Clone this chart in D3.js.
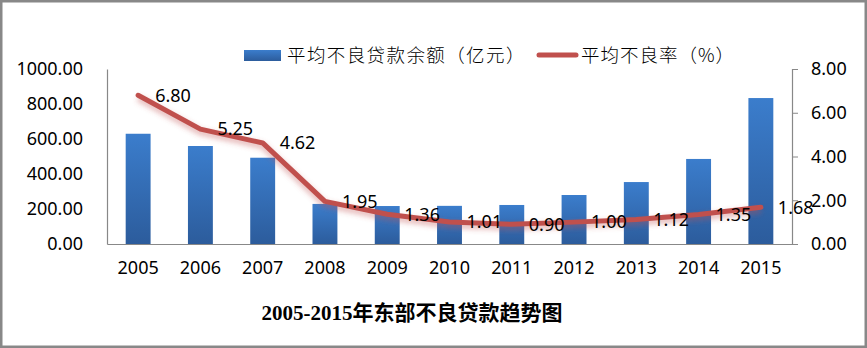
<!DOCTYPE html>
<html><head><meta charset="utf-8">
<script src="https://cdn.jsdelivr.net/npm/d3@7/dist/d3.min.js"></script>
<style>
html,body{margin:0;padding:0;background:#fff;}
svg{display:block;}
</style></head>
<body><svg id="c" width="867" height="348"></svg>
<script>
const years = ["2005","2006","2007","2008","2009","2010","2011","2012","2013","2014","2015"];
const balance = [630, 560, 493, 229, 217, 218, 223, 280, 354, 486, 834];
const rate = [6.80, 5.25, 4.62, 1.95, 1.36, 1.01, 0.90, 1.00, 1.12, 1.35, 1.68];
const leftTicks = [0, 200, 400, 600, 800, 1000];
const rightTicks = [0, 2, 4, 6, 8];
const seriesNames = ["平均不良贷款余额（亿元）", "平均不良率（%）"];
const title = "2005-2015年东部不良贷款趋势图";

const svg = d3.select("#c");
const font = "'Noto Sans', 'Noto Sans CJK SC', sans-serif";
const W = 867, H = 348;
const m = {left:107, right:792, top:69, bottom:244};

// frame
svg.append("rect").attr("x",1.25).attr("y",1.25).attr("width",W-2.5).attr("height",H-2.5)
  .attr("fill","#fff").attr("stroke","#888").attr("stroke-width",2.5);

const defs = svg.append("defs");
const g = defs.append("linearGradient").attr("id","barGrad").attr("x1",0).attr("y1",0).attr("x2",0).attr("y2",1);
g.append("stop").attr("offset","0%").attr("stop-color","#3B7DCC");
g.append("stop").attr("offset","100%").attr("stop-color","#2C5C9C");
const lg = defs.append("linearGradient").attr("id","legGrad").attr("x1",0).attr("y1",0).attr("x2",0).attr("y2",1);
lg.append("stop").attr("offset","0%").attr("stop-color","#3B7DCC");
lg.append("stop").attr("offset","100%").attr("stop-color","#2C5C9C");
const blur = defs.append("filter").attr("id","shadow").attr("x","-10%").attr("y","-50%").attr("width","120%").attr("height","200%");
blur.append("feGaussianBlur").attr("stdDeviation",2.5);

const x = d3.scaleBand().domain(years).range([m.left, m.right]).paddingInner(0.6).paddingOuter(0.3);
const xc = d => x(d) + x.bandwidth()/2;
const yL = d3.scaleLinear().domain([0,1000]).range([m.bottom, m.top]);
const yR = d3.scaleLinear().domain([0,8]).range([m.bottom, m.top]);

// bars
svg.append("g").selectAll("rect").data(years).join("rect")
  .attr("x", d => x(d)).attr("width", x.bandwidth())
  .attr("y", (d,i) => yL(balance[i])).attr("height", (d,i) => yL(0) - yL(balance[i]))
  .attr("fill","url(#barGrad)");

// left axis
const axL = svg.append("g").attr("transform",`translate(${m.left},0)`)
  .call(d3.axisLeft(yL).tickValues(leftTicks).tickSize(0).tickPadding(24).tickFormat(d3.format(".2f")));
axL.select(".domain").attr("stroke","#888").attr("stroke-width",1.2);
axL.selectAll("text").attr("font-family",font).attr("font-size",18).attr("fill","#000");

// right axis
const axR = svg.append("g").attr("transform",`translate(${m.right},0)`)
  .call(d3.axisRight(yR).tickValues(rightTicks).tickSize(6).tickSizeOuter(6).tickPadding(13).tickFormat(d3.format(".2f")));
axR.select(".domain").attr("stroke","#888").attr("stroke-width",1.2);
axR.selectAll(".tick line").attr("stroke","#888");
axR.selectAll("text").attr("font-family",font).attr("font-size",18).attr("fill","#000");

// x axis
const axX = svg.append("g").attr("transform",`translate(0,${m.bottom})`)
  .call(d3.axisBottom(x).tickSize(0).tickPadding(17).tickSizeOuter(0));
axX.select(".domain").attr("stroke","#888").attr("stroke-width",1.2);
axX.selectAll("text").attr("font-family",font).attr("font-size",18).attr("fill","#000");

// line
const line = d3.line().x((d,i) => xc(years[i])).y(d => yR(d)).curve(d3.curveLinear);
svg.append("path").datum(rate).attr("d",line).attr("fill","none")
  .attr("stroke","#C0504D").attr("stroke-opacity",0.35).attr("stroke-width",7)
  .attr("stroke-linejoin","round").attr("transform","translate(0,3)").attr("filter","url(#shadow)");
svg.append("path").datum(rate).attr("d",line).attr("fill","none")
  .attr("stroke","#C0504D").attr("stroke-width",5).attr("stroke-linecap","round").attr("stroke-linejoin","round");

// data labels
svg.append("g").selectAll("text").data(rate).join("text")
  .attr("x",(d,i) => xc(years[i]) + 17).attr("y", d => yR(d)).attr("dy","0.35em")
  .attr("font-family",font).attr("font-size",18).attr("fill","#000")
  .text(d => d.toFixed(2));

// legend
const legFont = "'Noto Sans CJK SC', sans-serif";
const leg = svg.append("g");
leg.append("rect").attr("x",244).attr("y",50).attr("width",37).attr("height",11).attr("fill","url(#legGrad)");
leg.append("text").attr("x",287).attr("y",56).attr("dy","0.35em").attr("font-family",legFont).attr("font-size",18.5)
  .attr("letter-spacing",1.4).attr("font-weight",300).attr("fill","#000").text(seriesNames[0]);
leg.append("line").attr("x1",539).attr("x2",576).attr("y1",55).attr("y2",55)
  .attr("stroke","#C0504D").attr("stroke-width",5).attr("stroke-linecap","round");
leg.append("text").attr("x",581).attr("y",56).attr("dy","0.35em").attr("font-family",legFont).attr("font-size",18.5)
  .attr("letter-spacing",1.0).attr("font-weight",300).attr("fill","#000").text(seriesNames[1]);

// title
svg.append("text").attr("x",412).attr("y",313).attr("dy","0.35em").attr("text-anchor","middle")
  .attr("font-family","'Liberation Serif', 'Noto Sans CJK SC', serif").attr("font-weight","bold")
  .attr("font-size",21).attr("fill","#000").text(title);
</script></body></html>
